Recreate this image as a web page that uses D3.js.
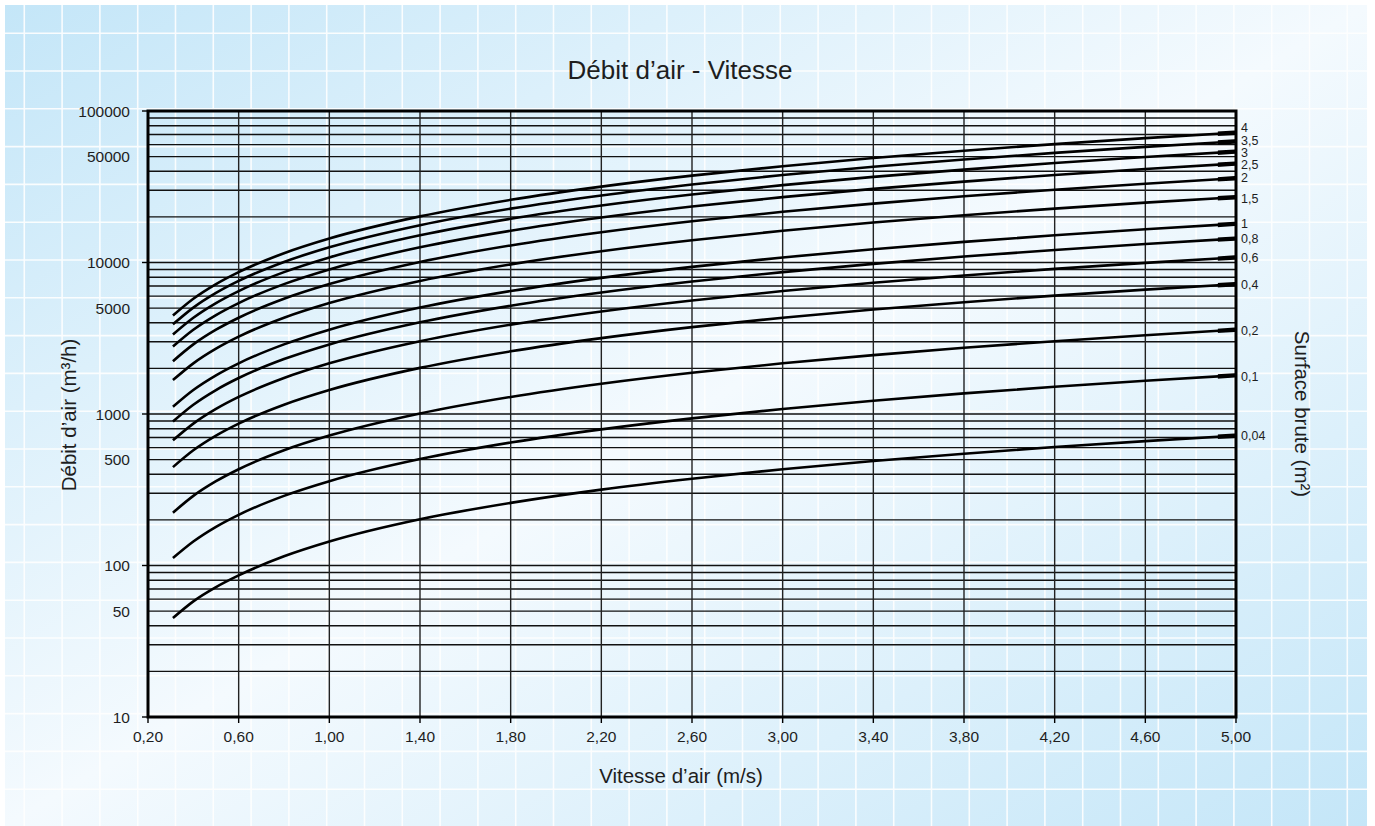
<!DOCTYPE html>
<html>
<head>
<meta charset="utf-8">
<script src="https://cdn.jsdelivr.net/npm/d3@7/dist/d3.min.js"></script>
<style>
html,body{margin:0;padding:0;background:#fff;}
svg{display:block;}
text{font-family:"Liberation Sans",Arial,Helvetica,sans-serif;fill:#1e1e1e;}
</style>
</head>
<body>
<svg id="chart" width="1375" height="826"></svg>
<script>
// ---------- data ----------
const title = "Débit d’air - Vitesse";
const xTitle = "Vitesse d’air (m/s)";
const yTitle = "Débit d’air (m³/h)";
const y2Title = "Surface brute (m²)";

const speeds = [0.31, 0.4, 0.5, 0.6, 0.8, 1.0, 1.4, 1.8, 2.2, 2.6, 3.0, 3.4, 3.8, 4.2, 4.6, 5.0];

const surfaceLabels = ["4", "3,5", "3", "2,5", "2", "1,5", "1", "0,8", "0,6", "0,4", "0,2", "0,1", "0,04"];

const flow_4   = [4464, 5760, 7200, 8640, 11520, 14400, 20160, 25920, 31680, 37440, 43200, 48960, 54720, 60480, 66240, 72000];
const flow_3_5 = [3906, 5040, 6300, 7560, 10080, 12600, 17640, 22680, 27720, 32760, 37800, 42840, 47880, 52920, 57960, 63000];
const flow_3   = [3348, 4320, 5400, 6480, 8640, 10800, 15120, 19440, 23760, 28080, 32400, 36720, 41040, 45360, 49680, 54000];
const flow_2_5 = [2790, 3600, 4500, 5400, 7200, 9000, 12600, 16200, 19800, 23400, 27000, 30600, 34200, 37800, 41400, 45000];
const flow_2   = [2232, 2880, 3600, 4320, 5760, 7200, 10080, 12960, 15840, 18720, 21600, 24480, 27360, 30240, 33120, 36000];
const flow_1_5 = [1674, 2160, 2700, 3240, 4320, 5400, 7560, 9720, 11880, 14040, 16200, 18360, 20520, 22680, 24840, 27000];
const flow_1   = [1116, 1440, 1800, 2160, 2880, 3600, 5040, 6480, 7920, 9360, 10800, 12240, 13680, 15120, 16560, 18000];
const flow_0_8 = [893, 1152, 1440, 1728, 2304, 2880, 4032, 5184, 6336, 7488, 8640, 9792, 10944, 12096, 13248, 14400];
const flow_0_6 = [670, 864, 1080, 1296, 1728, 2160, 3024, 3888, 4752, 5616, 6480, 7344, 8208, 9072, 9936, 10800];
const flow_0_4 = [446, 576, 720, 864, 1152, 1440, 2016, 2592, 3168, 3744, 4320, 4896, 5472, 6048, 6624, 7200];
const flow_0_2 = [223, 288, 360, 432, 576, 720, 1008, 1296, 1584, 1872, 2160, 2448, 2736, 3024, 3312, 3600];
const flow_0_1 = [112, 144, 180, 216, 288, 360, 504, 648, 792, 936, 1080, 1224, 1368, 1512, 1656, 1800];
const flow_0_04 = [45, 58, 72, 86, 115, 144, 202, 259, 317, 374, 432, 490, 547, 605, 662, 720];

const seriesValues = [flow_4, flow_3_5, flow_3, flow_2_5, flow_2, flow_1_5, flow_1, flow_0_8, flow_0_6, flow_0_4, flow_0_2, flow_0_1, flow_0_04];

const xTickValues = [0.2, 0.6, 1.0, 1.4, 1.8, 2.2, 2.6, 3.0, 3.4, 3.8, 4.2, 4.6, 5.0];
const xTickLabels = ["0,20", "0,60", "1,00", "1,40", "1,80", "2,20", "2,60", "3,00", "3,40", "3,80", "4,20", "4,60", "5,00"];
const yTickValues = [10, 50, 100, 500, 1000, 5000, 10000, 50000, 100000];
const yTickLabels = ["10", "50", "100", "500", "1000", "5000", "10000", "50000", "100000"];
const yMajor = [10, 100, 1000, 10000, 100000];

// ---------- layout ----------
const plot = {left: 148, right: 1236, top: 111, bottom: 717};
const labelNudge = [-4.5, -0.5, 1, 1.5, 0, 1.5, 0, 0, 0, 1, 1, 1, 0]; // px shift of right labels
const svg = d3.select("#chart");

const x = d3.scaleLinear().domain([0.2, 5.0]).range([plot.left, plot.right]);
const y = d3.scaleLog().domain([10, 100000]).range([plot.bottom, plot.top]);

// ---------- background ----------
const defs = svg.append("defs");
const grad = defs.append("linearGradient").attr("id", "bg")
  .attr("x1", 0).attr("y1", 0).attr("x2", 1).attr("y2", 1);
grad.append("stop").attr("offset", 0).attr("stop-color", "#c4e6f8");
grad.append("stop").attr("offset", 0.5).attr("stop-color", "#f4fafe");
grad.append("stop").attr("offset", 1).attr("stop-color", "#c4e6f8");

const bg = {x0: 5, y0: 5, x1: 1367, y1: 826};
svg.append("rect").attr("x", bg.x0).attr("y", bg.y0)
  .attr("width", bg.x1 - bg.x0).attr("height", bg.y1 - bg.y0)
  .attr("fill", "url(#bg)");

const step = 37.8;
const bgGrid = svg.append("g").attr("stroke", "#ffffff").attr("stroke-width", 1.6).attr("opacity", 0.9);
d3.range(24.3, bg.x1, step).forEach(v => {
  bgGrid.append("line").attr("x1", v).attr("x2", v).attr("y1", bg.y0).attr("y2", bg.y1);
});
d3.range(33.2, bg.y1, step).forEach(v => {
  bgGrid.append("line").attr("y1", v).attr("y2", v).attr("x1", bg.x0).attr("x2", bg.x1);
});

// ---------- grid ----------
const hGrid = [];
[10, 100, 1000, 10000].forEach(d => { for (let k = 1; k <= 9; k++) hGrid.push(k * d); });
hGrid.push(100000);

svg.append("g").selectAll("line").data(hGrid).join("line")
  .attr("x1", plot.left).attr("x2", plot.right)
  .attr("y1", d => y(d)).attr("y2", d => y(d))
  .attr("stroke", "#111").attr("stroke-width", 1.4);

svg.append("g").selectAll("line").data(xTickValues).join("line")
  .attr("x1", d => x(d)).attr("x2", d => x(d))
  .attr("y1", plot.top).attr("y2", plot.bottom)
  .attr("stroke", "#222").attr("stroke-width", 1.4);

// ---------- curves ----------
const line = d3.line()
  .x((d, i) => x(speeds[i]))
  .y(d => y(d))
  .curve(d3.curveMonotoneX);

const curves = svg.append("g");
seriesValues.forEach(vals => {
  curves.append("path").attr("d", line(vals))
    .attr("fill", "none").attr("stroke", "#000").attr("stroke-width", 2.6)
    .attr("stroke-linejoin", "round");
});

// thicker end segment of each curve
defs.append("clipPath").attr("id", "endclip").append("rect")
  .attr("x", x(4.92)).attr("y", plot.top - 10)
  .attr("width", x(5.0) - x(4.92)).attr("height", plot.bottom - plot.top + 20);
const ends = svg.append("g").attr("clip-path", "url(#endclip)");
seriesValues.forEach(vals => {
  ends.append("path").attr("d", line(vals))
    .attr("fill", "none").attr("stroke", "#000").attr("stroke-width", 4.4);
});

// ---------- frame & axes ----------
svg.append("rect").attr("x", plot.left).attr("y", plot.top)
  .attr("width", plot.right - plot.left).attr("height", plot.bottom - plot.top)
  .attr("fill", "none").attr("stroke", "#000").attr("stroke-width", 3);

svg.append("g").selectAll("line").data(yMajor).join("line")
  .attr("x1", plot.left - 6).attr("x2", plot.left)
  .attr("y1", d => y(d)).attr("y2", d => y(d))
  .attr("stroke", "#000").attr("stroke-width", 1.4);

svg.append("g").selectAll("text").data(yTickValues).join("text")
  .attr("x", plot.left - 18).attr("y", d => y(d)).attr("dy", "0.36em")
  .attr("text-anchor", "end").attr("font-size", 15.5)
  .text((d, i) => yTickLabels[i]);

svg.append("g").selectAll("line").data(xTickValues).join("line")
  .attr("x1", d => x(d)).attr("x2", d => x(d))
  .attr("y1", plot.bottom).attr("y2", plot.bottom + 6)
  .attr("stroke", "#000").attr("stroke-width", 1.4);

svg.append("g").selectAll("text").data(xTickValues).join("text")
  .attr("x", d => x(d)).attr("y", plot.bottom + 25)
  .attr("text-anchor", "middle").attr("font-size", 15.5)
  .text((d, i) => xTickLabels[i]);

// right-side surface labels
svg.append("g").selectAll("text").data(seriesValues).join("text")
  .attr("x", x(5.0) + 5).attr("y", (d, i) => y(d[d.length - 1]) + labelNudge[i])
  .attr("dy", "0.34em").attr("font-size", 12.5)
  .text((d, i) => surfaceLabels[i]);

// ---------- titles ----------
svg.append("text").attr("x", 680).attr("y", 79)
  .attr("text-anchor", "middle").attr("font-size", 26).text(title);

svg.append("text").attr("x", (plot.left + plot.right) / 2 - 11).attr("y", 783)
  .attr("text-anchor", "middle").attr("font-size", 20.5).text(xTitle);

svg.append("text").attr("transform", "translate(76,415) rotate(-90)")
  .attr("text-anchor", "middle").attr("font-size", 20.5).text(yTitle);

svg.append("text").attr("transform", "translate(1295,414) rotate(90)")
  .attr("text-anchor", "middle").attr("font-size", 20.5).text(y2Title);
</script>
</body>
</html>
